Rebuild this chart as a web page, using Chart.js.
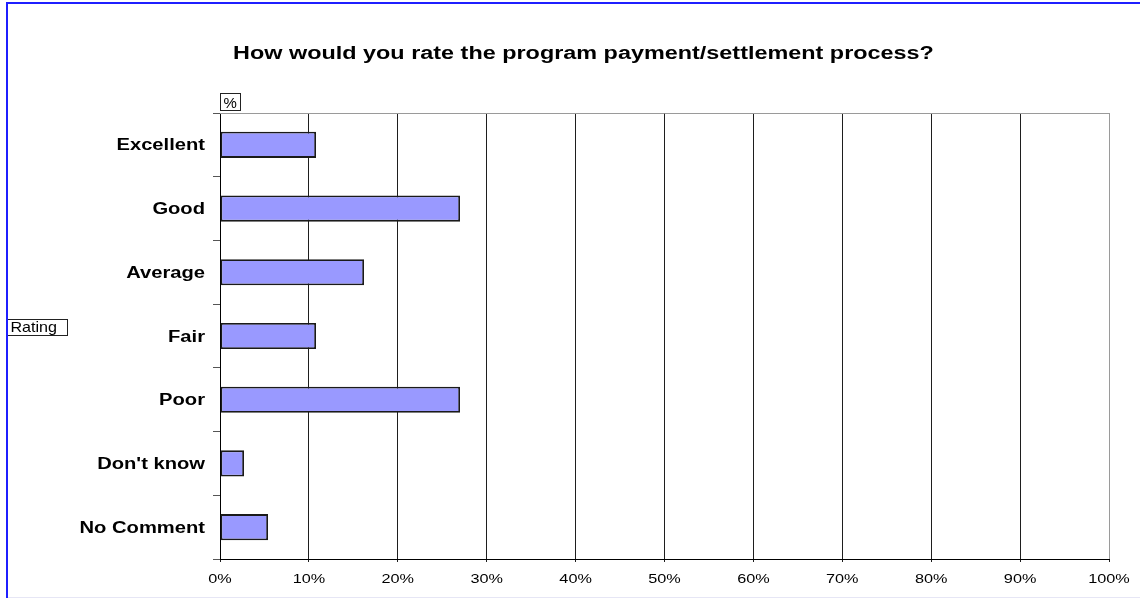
<!DOCTYPE html>
<html>
<head>
<meta charset="utf-8">
<script src="https://cdn.jsdelivr.net/npm/chart.js@4.4.1/dist/chart.umd.min.js"></script>
<style>
  html, body { margin: 0; padding: 0; background: #fff; overflow: hidden; }
  canvas { display: block; }
</style>
</head>
<body>
<canvas id="c" width="1140" height="598"></canvas>
<script>
const chartTitle = 'How would you rate the program payment/settlement process?';
const ratings = ['Excellent', 'Good', 'Average', 'Fair', 'Poor', "Don't know", 'No Comment'];
const percentShares = [10.8, 27.0, 16.2, 10.8, 27.0, 2.7, 5.4];
const percentTicks = [0, 10, 20, 30, 40, 50, 60, 70, 80, 90, 100];
const valueAxisName = '%';
const categoryAxisName = 'Rating';

const FONT = '"Liberation Sans", Arial, sans-serif';

// Draws text widened horizontally by sx, anchored left/center/right at x.
function wideText(ctx, text, x, y, font, sx, align) {
  ctx.save();
  ctx.font = font;
  ctx.fillStyle = '#000';
  ctx.textAlign = 'left';
  ctx.textBaseline = 'alphabetic';
  const w = ctx.measureText(text).width * sx;
  let left = x;
  if (align === 'center') left = x - w / 2;
  else if (align === 'right') left = x - w;
  ctx.translate(left, y);
  ctx.scale(sx, 1);
  ctx.fillText(text, 0, 0);
  ctx.restore();
  return w;
}

function boxedLabel(ctx, text, bx, by, bw, bh, tx, ty, font, sx) {
  ctx.save();
  ctx.fillStyle = '#fff';
  ctx.fillRect(bx, by, bw, bh);
  ctx.strokeStyle = '#222';
  ctx.lineWidth = 1;
  ctx.strokeRect(bx + 0.5, by + 0.5, bw, bh);
  ctx.restore();
  wideText(ctx, text, tx, ty, font, sx, 'left');
}

const decor = {
  id: 'decor',
  beforeDraw(chart) {
    const ctx = chart.ctx;
    ctx.save();
    ctx.fillStyle = '#fff';
    ctx.fillRect(0, 0, chart.width, chart.height);
    ctx.restore();
  },
  afterDraw(chart) {
    const ctx = chart.ctx;
    const a = chart.chartArea;
    const xs = chart.scales.x;
    const ys = chart.scales.y;

    // plot frame top edge
    ctx.save();
    ctx.strokeStyle = '#9a9a9a';
    ctx.lineWidth = 1;
    ctx.beginPath();
    ctx.moveTo(a.left, Math.round(a.top) + 0.5);
    ctx.lineTo(a.right, Math.round(a.top) + 0.5);
    ctx.stroke();
    ctx.restore();

    // title
    wideText(ctx, chartTitle, 583.5, 59, 'bold 18px ' + FONT, 1.3, 'center');

    // category labels
    ratings.forEach((r, i) => {
      const y = ys.getPixelForValue(i);
      wideText(ctx, r, 205, y + 5.6, 'bold 16px ' + FONT, 1.26, 'right');
    });

    // value tick labels
    percentTicks.forEach(v => {
      const x = xs.getPixelForValue(v);
      wideText(ctx, v + '%', x, 582.5, '13px ' + FONT, 1.25, 'center');
    });

    // axis name boxes
    boxedLabel(ctx, valueAxisName, 220, 93, 20, 17, 223.5, 107.5, '14px ' + FONT, 1.07);
    boxedLabel(ctx, categoryAxisName, 7, 319, 60, 16, 10.5, 332, '14.5px ' + FONT, 1.11);

    // outer frame
    ctx.save();
    ctx.fillStyle = '#1f1fff';
    ctx.fillRect(6, 2, 2, chart.height - 2);
    ctx.fillRect(6, 2, chart.width - 6, 2);
    ctx.fillStyle = '#e6e6f5';
    ctx.fillRect(8, chart.height - 1, chart.width - 8, 1);
    ctx.restore();
  }
};

new Chart(document.getElementById('c'), {
  type: 'bar',
  data: {
    labels: ratings,
    datasets: [{
      data: percentShares,
      backgroundColor: '#9999ff',
      borderColor: '#1a1a1a',
      borderWidth: 1.8,
      borderSkipped: false,
      categoryPercentage: 1,
      barPercentage: 0.41
    }]
  },
  options: {
    indexAxis: 'y',
    responsive: false,
    animation: false,
    devicePixelRatio: 1,
    layout: { padding: { left: 200, top: 113, right: 31, bottom: 29 } },
    plugins: {
      legend: { display: false },
      title: { display: false },
      tooltip: { enabled: false }
    },
    scales: {
      x: {
        min: 0,
        max: 100,
        afterBuildTicks: s => { s.ticks = percentTicks.map(v => ({ value: v })); },
        ticks: { display: false },
        grid: {
          color: c => (c.index === percentTicks.length - 1 ? '#9a9a9a' : '#1e1e1e'),
          tickColor: '#1e1e1e',
          lineWidth: 1,
          drawTicks: true,
          tickLength: 3
        },
        border: { color: '#000', width: 1 },
        afterFit: s => { s.height = 10; }
      },
      y: {
        ticks: { display: false },
        grid: {
          offset: true,
          drawOnChartArea: false,
          drawTicks: true,
          tickLength: 7,
          tickColor: '#555'
        },
        border: { color: '#000', width: 1 },
        afterFit: s => { s.width = 20; }
      }
    }
  },
  plugins: [decor]
});
</script>
</body>
</html>
